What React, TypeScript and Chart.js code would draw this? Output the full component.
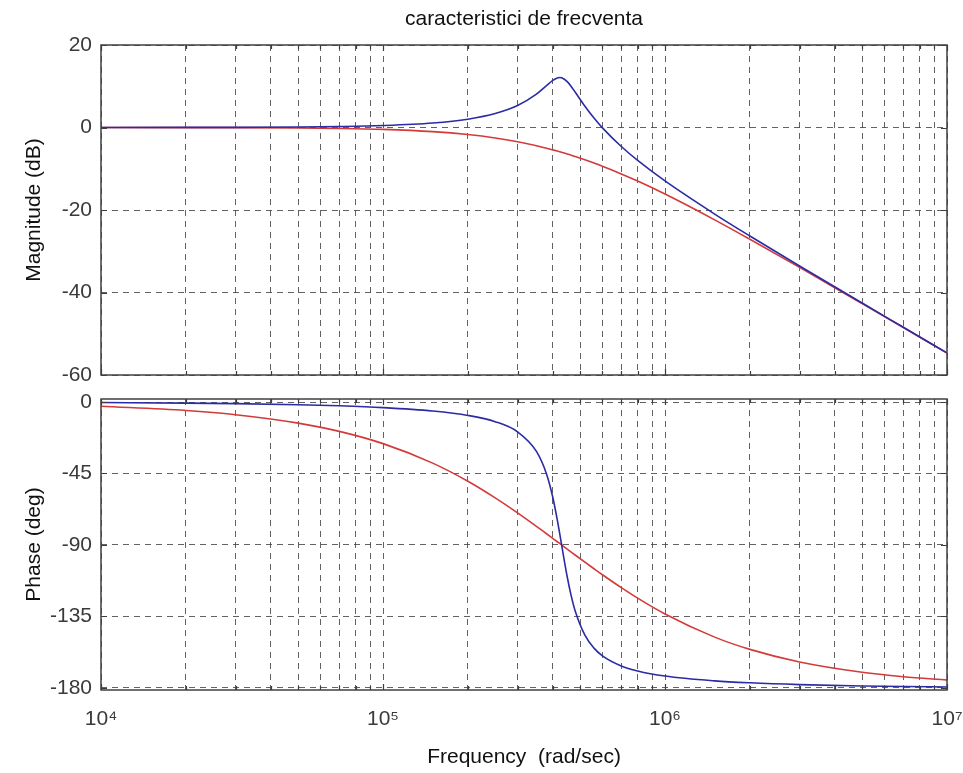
import React, { useEffect, useRef } from 'react';
import { Chart, registerables } from 'chart.js';

Chart.register(...registerables);

// ---- data ----
const frequency = [
  1e4, 2e4, 3e4, 5e4, 7e4, 1e5, 1.5e5, 2e5, 2.5e5, 3e5, 3.5e5, 3.8e5, 4e5, 4.15e5, 4.23e5,
  4.3e5, 4.5e5, 4.65e5, 4.8e5, 5.2e5, 5.6e5, 6e5, 7e5, 8e5, 1e6, 1.5e6, 2e6, 3e6, 5e6, 7e6, 1e7,
];
const magnitudeBlue = [
  0.0, 0.02, 0.04, 0.12, 0.23, 0.47, 1.08, 2.02, 3.38, 5.32, 8.09, 10.14, 11.41, 12.01, 12.11,
  12.04, 11.11, 9.92, 8.59, 5.15, 2.29, -0.08, -4.61, -7.98, -12.96, -20.99, -26.31, -33.57, -42.56, -48.43, -54.65,
];
const magnitudeRed = [
  0.0, -0.02, -0.04, -0.12, -0.23, -0.46, -1.0, -1.7, -2.53, -3.45, -4.42, -5.01, -5.42, -5.72, -5.88,
  -6.02, -6.42, -6.73, -7.03, -7.83, -8.61, -9.39, -11.25, -12.99, -16.14, -22.39, -27.1, -33.92, -42.68, -48.5, -54.68,
];
const phaseBlue = [
  -0.33, -0.67, -1.0, -1.69, -2.39, -3.52, -5.67, -8.44, -12.38, -18.77, -31.1, -45.25, -59.92, -74.15, -82.52,
  -90.0, -110.0, -122.07, -131.4, -146.82, -154.93, -159.78, -166.15, -169.3, -172.49, -175.53, -176.77, -177.9, -178.76, -179.12, -179.38,
];
const phaseRed = [
  -2.67, -5.33, -7.98, -13.27, -18.49, -26.19, -38.46, -49.87, -60.35, -69.8, -78.28, -82.94, -85.87, -87.96, -89.06,
  -90.0, -92.6, -94.48, -96.3, -100.82, -104.96, -108.75, -116.87, -123.48, -133.46, -148.01, -155.73, -163.69, -170.17, -172.97, -175.08,
];

const xMajorTicks = [1e4, 1e5, 1e6, 1e7];
const xMajorLabels = ['10\u2074', '10\u2075', '10\u2076', '10\u2077'];
const xMinorMultipliers = [2, 3, 4, 5, 6, 7, 8, 9];
const magnitudeTicks = [20, 0, -20, -40, -60];
const phaseTicks = [0, -45, -90, -135, -180];

const titleText = 'caracteristici de frecventa';
const magnitudeLabel = 'Magnitude (dB)';
const phaseLabel = 'Phase (deg)';
const frequencyLabel = 'Frequency  (rad/sec)';

// ---- styles ----
const FONT = '"Liberation Sans", Arial, Helvetica, sans-serif';
const BLUE = '#2b2ba6';
const RED = '#d43a3a';
const GRID = 'rgba(70,70,70,0.85)';
const TICK_COLOR = '#3a3a3a';
const TEXT_COLOR = '#111111';

const xTickValues: number[] = [];
for (let d = 0; d < xMajorTicks.length - 1; d++) {
  xTickValues.push(xMajorTicks[d]);
  for (const m of xMinorMultipliers) xTickValues.push(xMajorTicks[d] * m);
}
xTickValues.push(xMajorTicks[xMajorTicks.length - 1]);

const isMajor = (v: number) => xMajorTicks.some((t) => Math.abs(t - v) / t < 1e-9);

const framePlugin = {
  id: 'frame',
  afterDraw(chart: any) {
    const { ctx, chartArea } = chart;
    const { left, right, top, bottom } = chartArea;
    const xs = chart.scales.x;
    const ys = chart.scales.y;
    ctx.save();
    ctx.setLineDash([]);
    ctx.strokeStyle = '#3c3c3c';
    ctx.lineWidth = 1.2;
    ctx.beginPath();
    for (const t of xs.ticks) {
      const px = Math.round(xs.getPixelForValue(t.value)) + 0.5;
      const len = isMajor(t.value) ? 6 : 4;
      ctx.moveTo(px, bottom);
      ctx.lineTo(px, bottom - len);
      ctx.moveTo(px, top);
      ctx.lineTo(px, top + len);
    }
    for (const t of ys.ticks) {
      const py = Math.round(ys.getPixelForValue(t.value)) + 0.5;
      ctx.moveTo(left, py);
      ctx.lineTo(left + 6, py);
      ctx.moveTo(right, py);
      ctx.lineTo(right - 6, py);
    }
    ctx.stroke();
    ctx.lineWidth = 1.5;
    ctx.strokeStyle = '#404040';
    ctx.strokeRect(left, top, right - left, bottom - top);
    ctx.restore();
  },
};

function pts(ys: number[]) {
  return frequency.map((f, i) => ({ x: f, y: ys[i] }));
}

function lineDataset(label: string, ys: number[], color: string) {
  return {
    label,
    data: pts(ys),
    borderColor: color,
    backgroundColor: color,
    borderWidth: 1.6,
    pointRadius: 0,
    cubicInterpolationMode: 'monotone' as const,
    fill: false,
  };
}

const zeroPadding = (s: any) => {
  s.paddingLeft = 0;
  s.paddingRight = 0;
  s.paddingTop = 0;
  s.paddingBottom = 0;
};

function xScale(showLabels: boolean, height: number) {
  return {
    type: 'logarithmic' as const,
    position: 'bottom' as const,
    min: 1e4,
    max: 1e7,
    afterBuildTicks: (s: any) => {
      s.ticks = xTickValues.map((v) => ({ value: v }));
    },
    afterFit: (s: any) => {
      s.height = height;
      zeroPadding(s);
    },
    ticks: {
      display: showLabels,
      autoSkip: false,
      maxRotation: 0,
      minRotation: 0,
      padding: 17,
      color: TICK_COLOR,
      font: { family: FONT, size: 21 },
      callback: (v: any) => {
        const idx = xMajorTicks.findIndex((t) => Math.abs(t - Number(v)) / t < 1e-9);
        return idx >= 0 ? xMajorLabels[idx] : '';
      },
    },
    grid: { color: GRID, lineWidth: 1, drawTicks: false },
    border: { display: false, dash: [6, 5] },
    title: {
      display: showLabels,
      text: frequencyLabel,
      color: TEXT_COLOR,
      font: { family: FONT, size: 21 },
      padding: { top: 0, bottom: 3 },
    },
  };
}

function yScale(min: number, max: number, ticks: number[], label: string) {
  return {
    type: 'linear' as const,
    position: 'left' as const,
    min,
    max,
    afterBuildTicks: (s: any) => {
      s.ticks = ticks.map((v) => ({ value: v }));
    },
    afterFit: (s: any) => {
      s.width = 101;
      zeroPadding(s);
    },
    ticks: {
      padding: 9,
      color: TICK_COLOR,
      font: { family: FONT, size: 21 },
      callback: (v: any) => String(v),
    },
    grid: { color: GRID, lineWidth: 1, drawTicks: false },
    border: { display: false, dash: [6, 5] },
    title: {
      display: true,
      text: label,
      color: TEXT_COLOR,
      font: { family: FONT, size: 21 },
      padding: { top: 22, bottom: 0 },
    },
  };
}

export default function App() {
  const topRef = useRef<HTMLCanvasElement>(null);
  const botRef = useRef<HTMLCanvasElement>(null);

  useEffect(() => {
    const top = new Chart(topRef.current as HTMLCanvasElement, {
      type: 'line',
      data: {
        datasets: [
          lineDataset('sistem 1', magnitudeBlue, BLUE),
          lineDataset('sistem 2', magnitudeRed, RED),
        ],
      },
      options: {
        responsive: false,
        animation: false,
        layout: { padding: { left: 0, right: 16, top: 0, bottom: 0 }, autoPadding: false },
        plugins: {
          legend: { display: false },
          tooltip: { enabled: false },
          title: {
            display: true,
            text: titleText,
            fullSize: false,
            color: TEXT_COLOR,
            font: { family: FONT, size: 21, weight: 'normal' },
            padding: { top: 7, bottom: 12.8 },
          },
        },
        scales: {
          x: xScale(false, 15),
          y: yScale(-60, 20, magnitudeTicks, magnitudeLabel),
        },
      } as any,
      plugins: [framePlugin],
    });

    const bottom = new Chart(botRef.current as HTMLCanvasElement, {
      type: 'line',
      data: {
        datasets: [
          lineDataset('sistem 1', phaseBlue, BLUE),
          lineDataset('sistem 2', phaseRed, RED),
        ],
      },
      options: {
        responsive: false,
        animation: false,
        layout: { padding: { left: 0, right: 16, top: 14, bottom: 0 }, autoPadding: false },
        plugins: {
          legend: { display: false },
          tooltip: { enabled: false },
          title: { display: false },
        },
        scales: {
          x: xScale(true, 83),
          y: yScale(-181.3, 1.9, phaseTicks, phaseLabel),
        },
      } as any,
      plugins: [framePlugin],
    });

    return () => {
      top.destroy();
      bottom.destroy();
    };
  }, []);

  return (
    <div style={{ position: 'absolute', left: 0, top: 0, width: 963, height: 773, background: '#ffffff' }}>
      <canvas
        ref={topRef}
        width={963}
        height={390}
        style={{ position: 'absolute', left: 0, top: 0, width: 963, height: 390 }}
      />
      <canvas
        ref={botRef}
        width={963}
        height={388}
        style={{ position: 'absolute', left: 0, top: 385, width: 963, height: 388 }}
      />
    </div>
  );
}
